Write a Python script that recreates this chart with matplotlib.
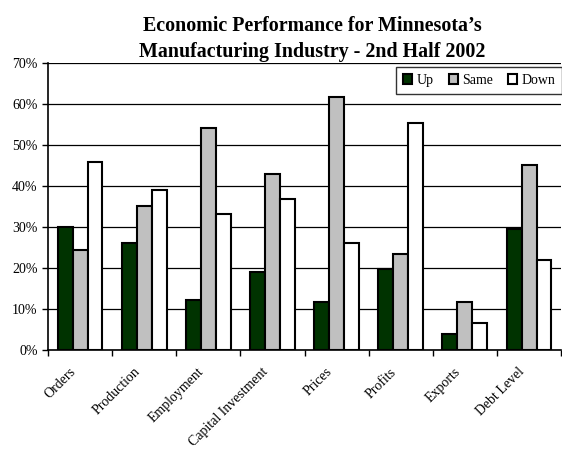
import numpy as np
from matplotlib import pyplot as plt
from matplotlib.ticker import FuncFormatter, MultipleLocator
from matplotlib.transforms import ScaledTranslation

categories = ["Orders", "Production", "Employment", "Capital Investment",
              "Prices", "Profits", "Exports", "Debt Level"]
up = [29.9, 26.1, 12.3, 18.9, 11.8, 19.7, 3.8, 29.5]
same = [24.4, 35.1, 54.0, 42.9, 61.5, 23.3, 11.8, 45.0]
down = [45.7, 39.0, 33.2, 36.7, 26.1, 55.2, 6.6, 22.0]

plt.rcParams['font.family'] = ['Liberation Serif', 'DejaVu Serif']

fig = plt.figure(figsize=(5.62, 4.5), dpi=100)
ax = fig.add_axes([0.0854, 0.222, 0.913, 0.639])

x = np.arange(len(categories))
w = 0.233
ax.bar(x - w, up, w, color="#003300", edgecolor="black", linewidth=1.5, label="Up", zorder=3)
ax.bar(x, same, w, color="#c0c0c0", edgecolor="black", linewidth=1.5, label="Same", zorder=3)
ax.bar(x + w, down, w, color="white", edgecolor="black", linewidth=1.5, label="Down", zorder=3)

ax.set_xlim(-0.5, len(categories) - 0.5)
ax.set_ylim(0, 70)
ax.yaxis.set_major_locator(MultipleLocator(10))
ax.yaxis.set_major_formatter(FuncFormatter(lambda v, p: "%d%%" % v))
ax.grid(axis="y", color="black", linewidth=0.9, zorder=0)

# category ticks sit between groups
ax.set_xticks(np.arange(len(categories) + 1) - 0.5)
ax.set_xticklabels([])
ax.set_xticks(x, minor=True)
ax.set_xticklabels(categories, minor=True, rotation=45, ha="right",
                   rotation_mode="anchor", fontsize=10)
ax.tick_params(axis="x", which="minor", length=0, pad=11)
ax.tick_params(axis="x", which="major", length=4, width=1, direction="out")
ax.tick_params(axis="y", length=4, width=1, direction="out", labelsize=10, colors="black")
shift = ScaledTranslation(-11 / 100, 0, fig.dpi_scale_trans)
for lab in ax.get_xticklabels(minor=True):
    lab.set_transform(lab.get_transform() + shift)

for s in ["top", "right"]:
    ax.spines[s].set_visible(False)
for s in ["left", "bottom"]:
    ax.spines[s].set_linewidth(1.2)

leg = ax.legend(loc="upper right", ncol=3, fontsize=10, frameon=True, fancybox=False,
                edgecolor="black", handlelength=0.65, handleheight=0.65,
                handletextpad=0.3, columnspacing=1.1, borderpad=0.5,
                borderaxespad=0, bbox_to_anchor=(1.002, 0.985))
leg.get_frame().set_linewidth(1.0)

fig.text(0.555, 1 - 30.7 / 450, "Economic Performance for Minnesota\u2019s",
         ha="center", va="baseline", fontsize=14.4, fontweight="bold")
fig.text(0.555, 1 - 56.7 / 450, "Manufacturing Industry - 2nd Half 2002",
         ha="center", va="baseline", fontsize=14.4, fontweight="bold")

fig.savefig("out.png", dpi=100)
